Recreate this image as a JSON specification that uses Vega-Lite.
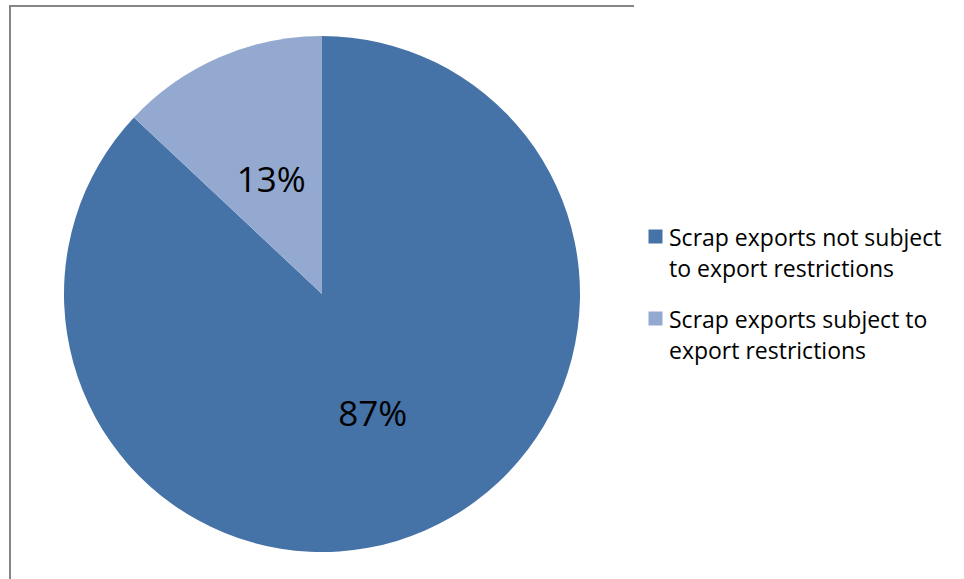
{
  "$schema": "https://vega.github.io/schema/vega-lite/v6.json",
  "autosize": {"type": "none"},
  "width": 624,
  "height": 576,
  "padding": {"left": 10, "top": 6, "right": 330, "bottom": -3},
  "background": "white",
  "view": {"stroke": "#868686", "strokeWidth": 2, "strokeDash": [624, 1200, 577, 10]},
  "data": {
    "values": [
      {"category": "Scrap exports not subject to export restrictions", "share": 87, "label": "87%"},
      {"category": "Scrap exports subject to export restrictions", "share": 13, "label": "13%"}
    ]
  },
  "layer": [
    {
      "mark": {"type": "arc", "outerRadius": 258},
      "encoding": {
        "theta": {"field": "share", "type": "quantitative", "stack": true},
        "order": {"field": "share", "type": "quantitative", "sort": "descending"},
        "color": {
          "field": "category",
          "type": "nominal",
          "scale": {"range": ["#4573A7", "#94A9CF"]},
          "legend": {
            "title": null,
            "orient": "none",
            "legendX": 634,
            "legendY": 219,
            "padding": 0,
            "symbolType": "square",
            "symbolSize": 196,
            "symbolStrokeWidth": 0,
            "labelFont": "Open Sans",
            "labelFontSize": 23,
            "labelColor": "black",
            "labelLimit": 400,
            "labelOffset": 2,
            "labelBaseline": "top",
            "rowPadding": 25,
            "labelExpr": "datum.label == 'Scrap exports not subject to export restrictions' ? ['Scrap exports not subject', 'to export restrictions'] : ['Scrap exports subject to', 'export restrictions']",
            "encode": {"labels": {"update": {"lineHeight": {"value": 31}, "dy": {"value": -9}}}}
          }
        }
      }
    },
    {
      "mark": {"type": "text", "radius": 128, "dy": 4, "font": "Open Sans", "fontSize": 35, "color": "black"},
      "encoding": {
        "theta": {"field": "share", "type": "quantitative", "stack": true},
        "order": {"field": "share", "type": "quantitative", "sort": "descending"},
        "detail": {"field": "category", "type": "nominal"},
        "text": {"field": "label", "type": "nominal"}
      }
    }
  ]
}
